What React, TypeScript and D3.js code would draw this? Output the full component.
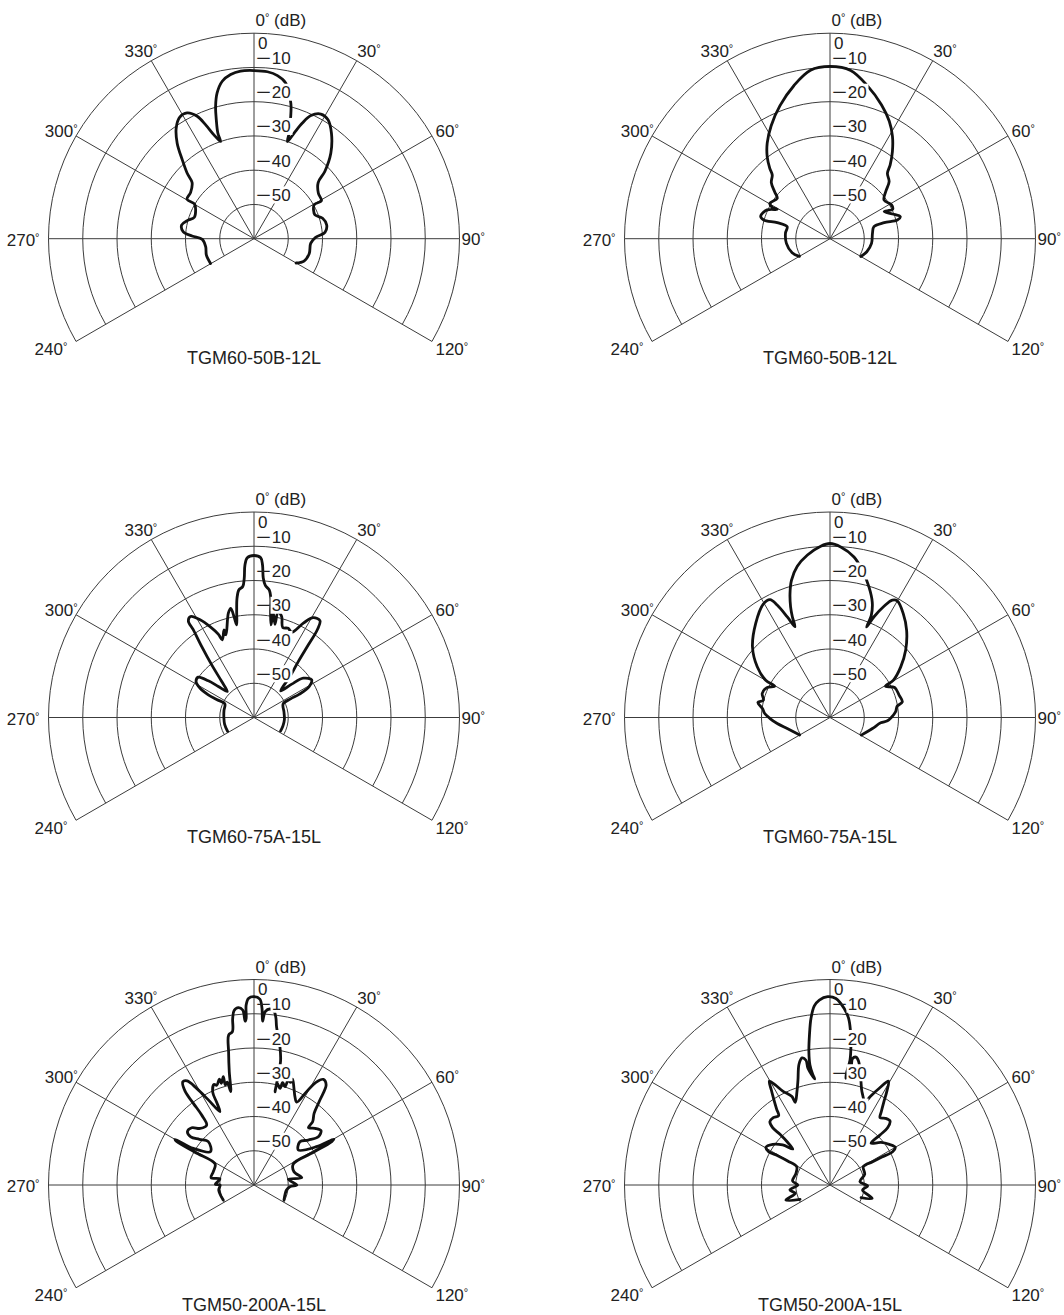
import React from 'react';
import * as d3 from 'd3';

// [bearing in degrees (0 = on axis, clockwise), level in dB]
type Sample = [number, number];

const tgm60_50b_a: Sample[] = [
  [-119.7, -45.4], [-109, -45.3], [-99.4, -45.7], [-90.7, -44.9], [-87.5, -41.9], [-84.3, -39.2],
  [-79.3, -38.5], [-74.9, -39.8], [-70.2, -41.5], [-63.8, -41.0], [-59.7, -39.9], [-59.5, -37.3],
  [-54, -37.1], [-47.8, -35.6], [-45.6, -32.7], [-42.3, -28.9], [-38.8, -24.2], [-35.1, -20.5],
  [-31.4, -18.4], [-28, -18.4], [-24.9, -20.6], [-23, -23.9], [-21.1, -27.5], [-19, -30],
  [-18.9, -27.4], [-17.6, -23.6], [-16.2, -19.8], [-14.2, -16.1], [-11.4, -13.1], [-8.1, -11.6],
  [-4.6, -10.9], [0, -10.9], [4.6, -11.1], [8.2, -11.9], [11.5, -13.6], [15.2, -19], [16.7, -22.7],
  [18.4, -27.5], [19, -30], [20.8, -27], [22.7, -23.4], [24.8, -20.4], [28.2, -18.7], [31.9, -19.1],
  [36.3, -21.8], [41.9, -26.4], [46.5, -31.5], [48.8, -35.1], [54.8, -37], [60.6, -37.4],
  [60.5, -39.8], [64.2, -40.7], [68.7, -40.9], [73.4, -39.1], [79.3, -38.4], [84.9, -39.2],
  [88.8, -42], [94.7, -43.4], [104.9, -43.3], [114.1, -44], [120, -45.8],
];

const tgm60_50b_b: Sample[] = [
  [-120, -49.7], [-110.4, -48.2], [-96.1, -47.2], [-83.1, -46.9], [-74.3, -47.0], [-73.1, -43.9],
  [-74.2, -39.9], [-71.9, -38.7], [-65.4, -39.8], [-60.9, -42.4], [-61.5, -40.8], [-59.5, -39.6],
  [-52.6, -40.6], [-49.7, -38.8], [-46.3, -36.3], [-42.2, -34.9], [-40.5, -32.9], [-37.4, -29.8],
  [-33.3, -26.6], [-27.5, -22.8], [-20.6, -18.5], [-13.3, -14.1], [-6.6, -10.5], [0, -9.7],
  [7, -10.5], [13.7, -14], [21, -18.1], [26.8, -21.6], [31.4, -25], [35.6, -28.7], [39.2, -32.2],
  [41.3, -34.6], [46, -36], [49.8, -38.7], [54.4, -40.6], [61.2, -39.5], [64.8, -39.8],
  [63.4, -42.3], [68.4, -40.4], [72.6, -38.5], [74.5, -39.6], [73.5, -43.5], [74.7, -46.7],
  [82.8, -47.5], [96.4, -47.8], [109.5, -48.6], [120, -49.6],
];

const tgm60_75a_a: Sample[] = [
  [-117.7, -51.3], [-103, -51.2], [-90, -51.2], [-77, -51.0], [-65, -50.6], [-64.3, -47.9],
  [-63.6, -45.1], [-61.5, -42.1], [-58.2, -40.1], [-54.1, -39.9], [-51.2, -42.9], [-49, -46.2],
  [-45.7, -49.1], [-41.9, -45.9], [-38.8, -40.3], [-36.4, -34.3], [-34.7, -28.9], [-34.2, -25.9],
  [-32.1, -25.2], [-28.9, -27.4], [-25.8, -30.5], [-23.2, -33.5], [-22.2, -35.5], [-18.9, -33],
  [-18.7, -34.5], [-13.8, -28.6], [-12, -27.4], [-11.2, -30], [-10.6, -32.5], [-9.3, -28.7],
  [-8.1, -24.8], [-6.8, -22.5], [-4.9, -21.6], [-4, -19.2], [-3.4, -15.4], [-2.4, -13.3],
  [0, -12.7], [2.4, -13.3], [3.2, -15.4], [3.8, -19.2], [4.9, -21.3], [6.8, -22.5], [8, -24.8],
  [8.9, -28.7], [10.4, -32.5], [10.5, -29], [12.7, -32.1], [12.8, -28.3], [15.3, -29.4],
  [17.7, -32.4], [21, -32.1], [23.8, -32.8], [27.6, -28.9], [30.7, -26.1], [34.3, -25.8],
  [35.8, -28.4], [36.8, -33.5], [38.4, -39.2], [41.3, -44.1], [45, -49], [48.5, -45.3],
  [51.4, -41.6], [56.8, -39.9], [60.7, -41.5], [62.8, -45.1], [63, -48], [64.9, -50.6],
  [79.6, -51.1], [94.1, -51.1], [106.4, -51.2], [117.1, -51.3],
];

const tgm60_75a_b: Sample[] = [
  [-120, -49.8], [-104.5, -47.1], [-96.5, -44.5], [-91, -42.5], [-86.5, -40.9], [-82.4, -40.1],
  [-78.2, -38.5], [-75.4, -39.9], [-70.5, -39], [-64.7, -39.6], [-60.5, -41.4], [-59.9, -38.3],
  [-55.1, -34.1], [-47.7, -29.4], [-38.3, -25], [-30.5, -21.6], [-27, -21.4], [-25.1, -23.8],
  [-23, -28.1], [-21.1, -31.6], [-20.5, -28.6], [-19.6, -25.7], [-17.9, -22], [-15.7, -18.4],
  [-12.2, -14.8], [-7.9, -12.1], [-3.1, -9.9], [0, -9.2], [3.6, -10.1], [8.5, -12.6],
  [12.4, -16], [16.6, -20.2], [20.1, -24.1], [22, -27.8], [22, -31.5], [23.6, -27.9],
  [25.9, -23.9], [28, -21.2], [30, -20.7], [35.2, -22.9], [41.3, -26.1], [48.3, -30.4],
  [54.4, -34.6], [59.5, -38.5], [60.6, -41.4], [65.1, -39.2], [72.1, -38.8], [77.8, -38.4],
  [80.4, -40.1], [85.1, -40.8], [90, -42.1], [93.3, -43.2], [96, -45.1], [104.6, -47.2],
  [119.4, -49.5],
];

const tgm50_200a_a: Sample[] = [
  [-116.1, -50], [-98.1, -49.6], [-90, -50.1], [-89, -48.7], [-80, -49.9], [-80.3, -47.3],
  [-71.8, -47.5], [-61.7, -47.1], [-61, -40.3], [-60.7, -34.1], [-60, -33.4], [-58.9, -39.3],
  [-52.4, -44], [-46.5, -41.6], [-50.1, -39.2], [-52.7, -36.8], [-51.3, -35.1], [-47.4, -35.3],
  [-43.6, -37.2], [-38.3, -37.7], [-36.8, -34.5], [-36.6, -30.3], [-36.3, -26], [-34.6, -23.4],
  [-32.7, -23.9], [-30.7, -27.2], [-28.2, -31.8], [-24.9, -36.4], [-24.3, -33.5], [-24, -30.4],
  [-21.7, -28.4], [-20.5, -28.9], [-18.1, -27.5], [-17.8, -28.8], [-15.8, -27.1], [-16, -29.6],
  [-14.6, -29], [-14, -31.9], [-12.3, -26.1], [-10.8, -20.4], [-9.6, -15.6], [-8, -14.8],
  [-7.3, -11], [-6.5, -8.7], [-5, -8], [-3.7, -8.8], [-3.1, -12.1], [-2.7, -11.3], [-2.5, -7.4],
  [-1.7, -5.5], [0, -5], [1.8, -5.7], [2.6, -8.4], [3, -12.1], [3.7, -9.3], [5.2, -8.4],
  [6.7, -9.1], [7.5, -10.9], [8.1, -13.3], [10.6, -18.9], [12.1, -23], [12.7, -32.1],
  [12.9, -29.6], [15.1, -30.8], [15.6, -28.9], [17.5, -29.9], [18.1, -27.8], [19.7, -28.2],
  [20, -27.1], [22.5, -29.5], [24.9, -31.6], [27.3, -32.8], [29.4, -28.7], [31.1, -25],
  [33.3, -23.1], [35.8, -24], [37.8, -28.6], [40, -32.7], [42.8, -34.8], [43.5, -36.9],
  [47.1, -35.7], [50.9, -34.8], [53.1, -36.5], [50.4, -39.4], [46.7, -41.6], [51.7, -43.5],
  [58.5, -38.6], [60.1, -33.1], [60.8, -34], [61.2, -40.2], [61.9, -47], [71.6, -47.7],
  [81.3, -45.9], [80.6, -49.8], [90, -47.5], [92.7, -49.5], [98.7, -50.4], [116.6, -50.2],
];

const tgm50_200a_b: Sample[] = [
  [-115.5, -50.3], [-108.8, -46.4], [-103.5, -49.6], [-97.1, -48.2], [-90, -50.6], [-83.9, -49],
  [-71.1, -49.5], [-61.2, -48.9], [-60.4, -45.8], [-60.7, -42.5], [-61.5, -39.6], [-59.5, -38.3],
  [-54.6, -39.5], [-49.8, -41.9], [-46, -44.9], [-44.8, -42.5], [-44.6, -39.2], [-45, -36.3],
  [-43.5, -34.5], [-40.1, -34.3], [-36.5, -34.8], [-35.1, -32.9], [-33.4, -30.3], [-31.7, -27.4],
  [-30.3, -24.9], [-28.7, -26.7], [-26.7, -29.3], [-23.3, -31.9], [-22.8, -33.8], [-19.5, -31.1],
  [-17, -28], [-14.4, -23.6], [-12.4, -22], [-10.9, -22.9], [-10.7, -25.3], [-8.2, -28.7],
  [-8.9, -27.3], [-9.5, -24.5], [-9, -20.6], [-7.8, -15.8], [-6.5, -11], [-5, -7.5],
  [-3.3, -5.9], [-0.7, -5], [1.8, -5.5], [4.6, -8.3], [6.4, -11.1], [7.5, -14.4], [8.6, -19.2],
  [9.1, -23.1], [8.4, -26.8], [8.4, -28.5], [10.1, -24.9], [10.1, -22.5], [11.5, -21.9],
  [13, -22.9], [16.4, -28.1], [18.9, -31.2], [23, -33.6], [24.4, -31.7], [27, -28.3],
  [29.4, -25.2], [31.3, -28.1], [33, -31.2], [35, -33.9], [36.6, -35.5], [39.7, -34.7],
  [43.2, -34.4], [45.2, -36.3], [45, -39.4], [44.5, -42.9], [50.1, -40.6], [55.6, -39],
  [60, -38], [62, -39.3], [61.7, -42.8], [61.3, -45.8], [61.2, -48.9], [72.9, -49.4],
  [83.7, -51.2], [91.5, -49], [98.7, -50.4], [107.6, -47.1], [112.2, -50.2],
];

const panelTitles = [
  'TGM60-50B-12L', 'TGM60-50B-12L',
  'TGM60-75A-15L', 'TGM60-75A-15L',
  'TGM50-200A-15L', 'TGM50-200A-15L',
];
const panelPatterns = [tgm60_50b_a, tgm60_50b_b, tgm60_75a_a, tgm60_75a_b, tgm50_200a_a, tgm50_200a_b];

const bearingTicks = [-120, -90, -60, -30, 0, 30, 60, 90, 120];
const levelRings = [0, -10, -20, -30, -40, -50];
const levelFloor = -60;

// layout
const WIDTH = 1064;
const HEIGHT = 1315;
const columnX = [254, 830];
const rowY = [238.7, 717.5, 1185];
const R = 205.5;

const FONT = '"Liberation Sans", Arial, Helvetica, sans-serif';
const INK = '#222';

const rad = (deg: number) => (deg * Math.PI) / 180;
const radius = d3.scaleLinear().domain([levelFloor, 0]).range([0, R]);

const patternLine = d3
  .lineRadial<Sample>()
  .angle((d) => rad(d[0]))
  .radius((d) => radius(d[1]))
  .curve(d3.curveCatmullRom.alpha(0.5));

function ringPath(rr: number) {
  const p = d3.path();
  // compass -120..120 → canvas angle (0 = +x) -210..30
  p.arc(0, 0, rr, rad(-210), rad(30));
  return p.toString();
}

function bearingLabelSpot(a: number) {
  const x = R * Math.sin(rad(a));
  const y = -R * Math.cos(rad(a));
  const left = a < 0;
  switch (Math.abs(a)) {
    case 30:
      return left ? { x: x + 6, y: y - 3.4, anchor: 'end' } : { x: x + 0.5, y: y - 3.4, anchor: 'start' };
    case 60:
      return left ? { x: x + 1.5, y: y + 1, anchor: 'end' } : { x: x + 3.5, y: y + 1, anchor: 'start' };
    case 90:
      return left ? { x: x - 9, y: y + 7, anchor: 'end' } : { x: x + 2, y: y + 6.5, anchor: 'start' };
    default:
      return left ? { x: x - 8.7, y: y + 13.5, anchor: 'end' } : { x: x + 3.5, y: y + 13.5, anchor: 'start' };
  }
}

function Degree() {
  return (
    <tspan fontSize={11} dy={-5}>
      °
    </tspan>
  );
}

function PolarPanel({ cx, cy, title, data }: { cx: number; cy: number; title: string; data: Sample[] }) {
  return (
    <g transform={`translate(${cx},${cy})`} fontFamily={FONT} fill={INK}>
      {levelRings.map((db) => (
        <path key={`ring${db}`} d={ringPath(radius(db))} fill="none" stroke="#3c3c3c" strokeWidth={1} />
      ))}
      {bearingTicks.map((a) => (
        <line
          key={`spoke${a}`}
          x1={0}
          y1={0}
          x2={R * Math.sin(rad(a))}
          y2={-R * Math.cos(rad(a))}
          stroke="#3c3c3c"
          strokeWidth={1}
        />
      ))}
      <path
        d={patternLine(data) || ''}
        fill="none"
        stroke="#111"
        strokeWidth={2.8}
        strokeLinejoin="round"
        strokeLinecap="round"
      />
      {levelRings
        .filter((db) => db < 0)
        .map((db) => {
          const y = -radius(db) - 3.5;
          return (
            <g key={`lvl${db}`}>
              <rect x={16.5} y={y - 14.5} width={22} height={17} fill="#fff" />
              <text y={y} fontSize={17}>
                <tspan x={2} textLength={15} lengthAdjust="spacingAndGlyphs">
                  −
                </tspan>
                <tspan x={17.7}>{Math.abs(db)}</tspan>
              </text>
            </g>
          );
        })}
      <text x={4} y={-R + 15.5} fontSize={17}>
        0
      </text>
      <text x={1.5} y={-R - 7} fontSize={17}>
        0<Degree />
        <tspan dy={5}> (dB)</tspan>
      </text>
      {bearingTicks
        .filter((a) => a !== 0)
        .map((a) => {
          const s = bearingLabelSpot(a);
          return (
            <text key={`tick${a}`} x={s.x} y={s.y} fontSize={17} textAnchor={s.anchor}>
              {a < 0 ? a + 360 : a}
              <Degree />
            </text>
          );
        })}
      <text x={0} y={125.5} fontSize={18} textAnchor="middle">
        {title}
      </text>
    </g>
  );
}

export default function App() {
  return (
    <svg
      width={WIDTH}
      height={HEIGHT}
      viewBox={`0 0 ${WIDTH} ${HEIGHT}`}
      style={{ position: 'absolute', left: 0, top: 0, background: '#fff' }}
    >
      <rect width={WIDTH} height={HEIGHT} fill="#fff" />
      {panelPatterns.map((data, i) => (
        <PolarPanel
          key={i}
          cx={columnX[i % 2]}
          cy={rowY[Math.floor(i / 2)]}
          title={panelTitles[i]}
          data={data}
        />
      ))}
    </svg>
  );
}
